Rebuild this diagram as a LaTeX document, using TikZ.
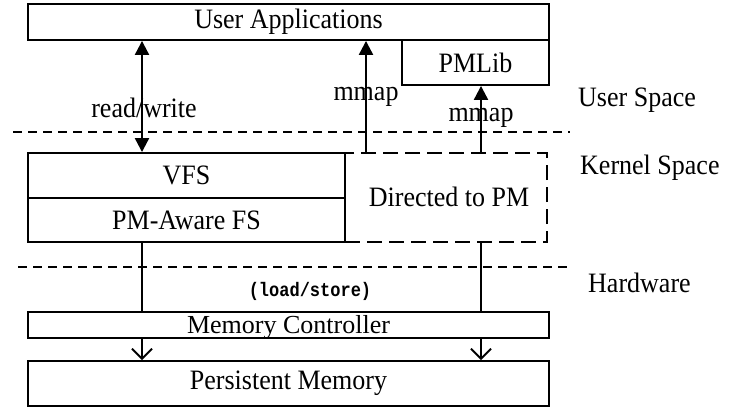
\documentclass[tikz,border=0pt]{standalone}
\usepackage{fontspec}
\setmainfont{Liberation Serif}
\setmonofont{Liberation Mono}
\usetikzlibrary{arrows.meta}
% slightly tall lettering
\newcommand{\tallText}[1]{\scalebox{1}[1.08]{#1}}
\begin{document}
\begin{tikzpicture}[x=1pt, y=-1pt,
  every node/.style={font=\fontsize{26}{30}\selectfont, inner sep=0pt},
  layer/.style={draw, line width=1.9pt, minimum width=#1},
  dashbox/.style={draw, line width=1.9pt, dash pattern=on 15pt off 7pt},
  divider/.style={line width=2.8pt, dash pattern=on 9pt off 6pt},
  link/.style={line width=2.2pt},
  filledhead/.style={link, -{Triangle[length=14pt, width=14pt]}},
  bothheads/.style={link, {Triangle[length=14pt, width=14pt]}-{Triangle[length=14pt, width=14pt]}},
  openhead/.style={line width=1.9pt, -{Straight Barb[length=10pt, width=20pt, line width=1.9pt]}},
  side/.style={anchor=west}
]
\useasboundingbox (0,0) rectangle (735,414);

% user space
\node[layer=521pt, minimum height=36pt] (ua) at (288.5,22) {\tallText{User Applications}};
\node[layer=147pt, minimum height=45pt] (pml) at (475.5,62.5) {\tallText{PMLib}};

% kernel space
\node[layer=317pt, minimum height=45pt] (vfs) at (186.5,175.5) {\tallText{VFS}};
\node[layer=317pt, minimum height=44pt] (pmfs) at (186.5,220) {\tallText{PM-Aware FS}};
\node[dashbox, minimum width=202pt, minimum height=89pt] (dpm) at (446,197.5) {};
\node (dpmtext) at (449,197) {\tallText{Directed to PM}};

% hardware
\node[layer=521pt, minimum height=26pt] (mc) at (288.5,325) {};
\node[anchor=base] (mctext) at (288.5,333) {Memory Controller};
\node[layer=521pt, minimum height=45pt] (pm) at (288.5,383.5) {\tallText{Persistent Memory}};

% layer dividers
\coordinate (d1a) at (13,132);
\coordinate (d1b) at (570,132);
\coordinate (d2a) at (18,267);
\coordinate (d2b) at (570,267);
\draw[divider] (d1a) -- (d1b);
\draw[divider] (d2a) -- (d2b);

% column positions of the connectors
\coordinate (cA) at (142,0);
\coordinate (cB) at (366,0);
\coordinate (cC) at (481,0);

% read/write path
\draw[bothheads] (cA |- ua.south) -- (cA |- vfs.north);
\node (rw) at (144,108) {\tallText{read/write}};

% mmap paths
\draw[filledhead] (cB |- dpm.north) -- (cB |- ua.south);
\node (mm1) at (366,97) {\tallText{mmap}};
\draw[filledhead] (cC |- dpm.north) -- (cC |- pml.south);
\node (mm2) at (481,118) {\tallText{mmap}};

% load/store paths
\draw[link] (cA |- pmfs.south) -- (cA |- mc.north);
\draw[link] (cC |- dpm.south) -- (cC |- mc.north);
\node[font=\ttfamily\bfseries\fontsize{17}{20}\selectfont] (ls) at (310,291) {\scalebox{1}[1.15]{(load/store)}};
\draw[openhead] (cA |- mc.south) -- (cA |- pm.north);
\draw[openhead] (cC |- mc.south) -- (cC |- pm.north);

% layer names
\node[side] (us) at (578,100) {\tallText{User Space}};
\node[side] (ks) at (580,168) {\tallText{Kernel Space}};
\node[side] (hw) at (588,283) {\tallText{Hardware}};
\end{tikzpicture}
\end{document}
